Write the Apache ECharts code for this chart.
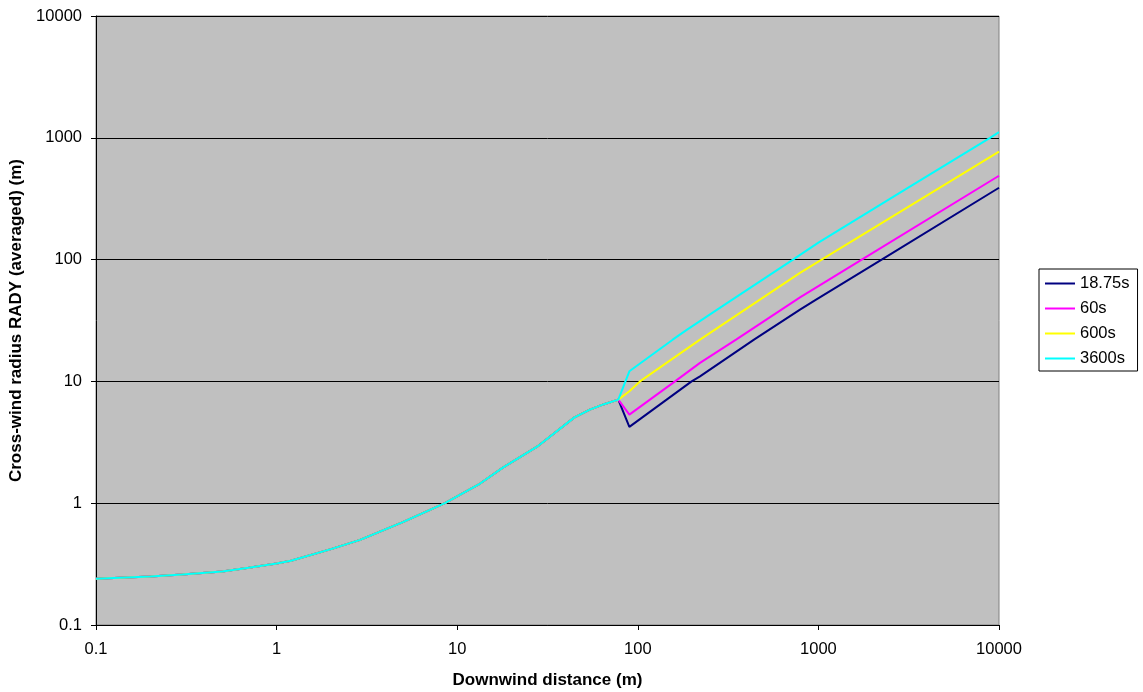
<!DOCTYPE html>
<html>
<head>
<meta charset="utf-8">
<script src="https://cdn.jsdelivr.net/npm/echarts@6/dist/echarts.min.js"></script>
<style>
  html, body { margin: 0; padding: 0; background: #fff; }
  #chart { width: 1143px; height: 692px; }
</style>
</head>
<body>
<div id="chart"></div>
<script>
// shared part of the curve (all four averaging times coincide up to ~78 m)
var commonX = [0.1, 0.2, 0.3, 0.5, 0.7, 1, 1.2, 2, 2.9, 5, 8.55, 13.4, 17.9, 27.7, 44.4, 54.3, 65, 78]
var commonY = [0.24, 0.25, 0.26, 0.275, 0.295, 0.32, 0.337, 0.42, 0.5, 0.7, 1.0, 1.45, 1.96, 2.91, 5.04, 5.87, 6.5, 7.09]

// branches after the kink
var navyX = [89.8, 198.6, 221, 440, 791, 971, 2240, 10000]
var navyY = [4.23, 10, 11.0, 22.0, 38.9, 47.0, 100, 389]

var magentaX = [89.8, 160.7, 221, 350, 791, 1738, 10000]
var magentaY = [5.34, 10, 14.2, 22.0, 49, 100, 488]

var yellowX = [89.8, 102.8, 221, 791, 1042, 10000]
var yellowY = [8.3, 10, 22.0, 77.9, 100, 769]

var cyanX = [89.8, 156, 186.6, 300, 723, 1000, 3000, 8913, 10000]
var cyanY = [12.1, 22.0, 26.5, 42.3, 100, 138, 374, 1000, 1114]

var seriesNames = ['18.75s', '60s', '600s', '3600s']
var seriesColors = ['#000080', '#FF00FF', '#FFFF00', '#00FFFF']

function pairs(xs, ys) {
  var base = commonX.map(function (x, i) { return [x, commonY[i]] })
  return base.concat(xs.map(function (x, i) { return [x, ys[i]] }))
}

var branchData = [pairs(navyX, navyY), pairs(magentaX, magentaY), pairs(yellowX, yellowY), pairs(cyanX, cyanY)]

var font = 'Arial, "Liberation Sans", sans-serif'
var fmt = function (v) { return String(Number(v.toPrecision(4))) }

var chart = echarts.init(document.getElementById('chart'))
chart.setOption({
  animation: false,
  textStyle: { fontFamily: font },
  grid: {
    left: 96,
    right: 144,
    top: 16,
    bottom: 67,
    outerBoundsMode: 'none',
    containLabel: false,
    show: true,
    backgroundColor: '#C0C0C0',
    borderColor: '#808080',
    borderWidth: 1
  },
  legend: {
    orient: 'vertical',
    left: 1039,
    top: 269,
    padding: [6, 8, 4, 6],
    icon: 'rect',
    itemWidth: 30,
    itemHeight: 2,
    itemGap: 8,
    borderColor: '#000',
    borderWidth: 1,
    borderRadius: 0,
    backgroundColor: '#fff',
    textStyle: { fontSize: 16.5, lineHeight: 17, color: '#000', fontFamily: font },
    data: seriesNames
  },
  xAxis: {
    type: 'log',
    logBase: 10,
    min: 0.1,
    max: 10000,
    interval: 1,
    name: 'Downwind distance (m)',
    nameLocation: 'middle',
    nameGap: 46.5,
    nameTextStyle: { fontSize: 17, fontWeight: 'bold', color: '#000', fontFamily: font },
    axisLine: { show: true, lineStyle: { color: '#000', width: 1 } },
    axisTick: { show: true, inside: false, length: 5, lineStyle: { color: '#000' } },
    axisLabel: { fontSize: 16.5, color: '#000', margin: 16, formatter: fmt, fontFamily: font },
    splitLine: { show: false },
    minorTick: { show: false }
  },
  yAxis: {
    type: 'log',
    logBase: 10,
    min: 0.1,
    max: 10000,
    interval: 1,
    name: 'Cross-wind radius RADY (averaged) (m)',
    nameLocation: 'middle',
    nameGap: 69.5,
    nameRotate: 90,
    nameTextStyle: { fontSize: 17, fontWeight: 'bold', color: '#000', fontFamily: font },
    axisLine: { show: true, lineStyle: { color: '#000', width: 1 } },
    axisTick: { show: true, inside: false, length: 5, lineStyle: { color: '#000' } },
    axisLabel: { fontSize: 16.5, color: '#000', margin: 14, formatter: fmt, fontFamily: font },
    splitLine: { show: true, lineStyle: { color: '#000', width: 1 } }
  },
  series: seriesNames.map(function (name, i) {
    return {
      name: name,
      type: 'line',
      symbol: 'none',
      data: branchData[i],
      color: seriesColors[i],
      lineStyle: { width: 2, color: seriesColors[i] },
      z: 2 + i
    }
  })
})
</script>
</body>
</html>
